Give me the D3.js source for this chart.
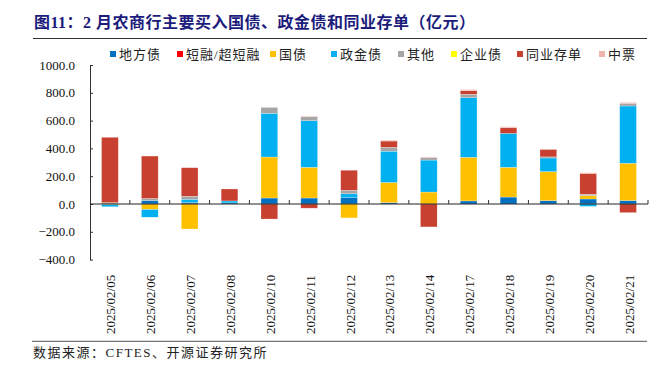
<!DOCTYPE html>
<html>
<head>
<meta charset="utf-8">
<script src="https://cdn.jsdelivr.net/npm/d3@7"></script>
<style>
  body { margin: 0; background: #fff; }
  svg text { font-family: "Liberation Serif", "Times New Roman", "Noto Sans CJK SC", serif; }
  .cjk { font-family: "Liberation Serif", "Noto Sans CJK SC", sans-serif; }
</style>
</head>
<body>
<svg width="664" height="371"></svg>
<script>
// categories
var dates = ["2025/02/05","2025/02/06","2025/02/07","2025/02/08","2025/02/10","2025/02/11","2025/02/12",
             "2025/02/13","2025/02/14","2025/02/17","2025/02/18","2025/02/19","2025/02/20","2025/02/21"];

// series (亿元)
var localGov   = [0, 25, 12, 8, 43, 43, 45, 10, 0, 22, 50, 24, 36, 25];        // 地方债
var shortFin   = [0, 0, 0, 0, 0, 0, 0, 0, 0, 0, 0, 0, 0, 0];                   // 短融/超短融
var treasury   = [-5, -40, -180, 0, 295, 221, -100, 145, 86, 314, 214, 209, 24, 268]; // 国债
var policyBank = [-15, -55, 22, 14, 314, 335, 28, 225, 230, 428, 244, 98, -17, 412];  // 政金债
var other      = [10, 15, 22, 0, 43, 28, 26, 28, 18, 26, 0, 8, 10, 20];        // 其他
var corpBond   = [0, 0, 0, 0, 0, 0, 0, 0, 0, 0, 0, 0, 0, 0];                   // 企业债
var ncd        = [470, 305, 205, 86, -108, -30, 144, 45, -165, 25, 40, 53, 150, -62]; // 同业存单
var mtn        = [0, 0, 0, 0, 0, 6, 0, 6, 5, 8, 8, 0, 5, 6];                   // 中票

var seriesNames = ["地方债", "短融/超短融", "国债", "政金债", "其他", "企业债", "同业存单", "中票"];
var seriesData = [localGov, shortFin, treasury, policyBank, other, corpBond, ncd, mtn];
var colors = ["#0070C0", "#FF0000", "#FFC000", "#00B0F0", "#A5A5A5", "#FFFF00", "#C8402F", "#F2B5AD"];
var yTicks = [-400, -200, 0, 200, 400, 600, 800, 1000];

// build table for d3.stack
var table = dates.map(function(d, i) {
  var row = { date: d };
  seriesNames.forEach(function(k, j) { row[k] = seriesData[j][i]; });
  return row;
});

var svg = d3.select("svg");
var plotL = 90, plotR = 648, plotT = 65, plotB = 259.6;

var x = d3.scaleBand().domain(dates).range([plotL, plotR]).paddingInner(0.58).paddingOuter(0.29);
var y = d3.scaleLinear().domain([-400, 1000]).range([plotB, plotT]);
var color = d3.scaleOrdinal().domain(seriesNames).range(colors);

// title
svg.append("text")
  .attr("class", "cjk")
  .attr("x", 34).attr("y", 28)
  .attr("fill", "#1c1c7c")
  .style("font-size", "16px").style("font-weight", "bold").style("letter-spacing", "0.5px")
  .text("图11：2 月农商行主要买入国债、政金债和同业存单（亿元）");

svg.append("line").attr("x1", 33).attr("x2", 647).attr("y1", 38.5).attr("y2", 38.5)
  .attr("stroke", "#333").attr("stroke-width", 1.2);

// legend
var legendX = [110, 177, 270, 331, 398, 451, 517, 599];
var legend = svg.append("g").selectAll("g").data(seriesNames).enter().append("g")
  .attr("transform", function(d, i) { return "translate(" + legendX[i] + ",54)"; });
legend.append("rect").attr("x", 0).attr("y", -3).attr("width", 6).attr("height", 6)
  .attr("fill", function(d) { return color(d); });
legend.append("text").attr("class", "cjk").attr("x", 9).attr("dy", "0.35em")
  .style("font-size", "13px").style("letter-spacing", "1px").attr("fill", "#222")
  .text(function(d) { return d; });

// stacked bars
var stack = d3.stack().keys(seriesNames).offset(d3.stackOffsetDiverging);
var layers = svg.append("g").selectAll("g").data(stack(table)).enter().append("g")
  .attr("fill", function(d) { return color(d.key); });

layers.selectAll("rect").data(function(d) { return d; }).enter().append("rect")
  .attr("x", function(d) { return x(d.data.date); })
  .attr("width", x.bandwidth())
  .attr("y", function(d) { return y(Math.max(d[0], d[1])); })
  .attr("height", function(d) { return Math.abs(y(d[0]) - y(d[1])); })
  .attr("stroke", "#fff").attr("stroke-width", 0.4).attr("stroke-opacity", 0.6);

// y axis
var yAxis = svg.append("g").attr("transform", "translate(" + plotL + ",0)")
  .call(d3.axisLeft(y).tickValues(yTicks).tickSizeInner(-3).tickSizeOuter(0).tickPadding(15)
    .tickFormat(d3.format(".1f")));
yAxis.selectAll("text").style("font-size", "13px").attr("fill", "#111");
yAxis.selectAll("line, path").attr("stroke", "#333");

// zero line with ticks at category boundaries
var step = x.step();
svg.append("line").attr("x1", plotL).attr("x2", plotR).attr("y1", y(0)).attr("y2", y(0))
  .attr("stroke", "#222").attr("stroke-width", 1);
svg.append("g").selectAll("line").data(dates).enter().append("line")
  .attr("x1", function(d) { return x(d) + x.bandwidth() / 2 + step / 2; })
  .attr("x2", function(d) { return x(d) + x.bandwidth() / 2 + step / 2; })
  .attr("y1", y(0)).attr("y2", y(0) - 4)
  .attr("stroke", "#333");

// category labels
svg.append("g").selectAll("text").data(dates).enter().append("text")
  .attr("transform", function(d) { return "translate(" + (x(d) + x.bandwidth() / 2 + 1) + ",334) rotate(-90)"; })
  .attr("dy", "0.35em")
  .style("font-size", "13px").attr("fill", "#111")
  .text(function(d) { return d; });

// bottom rule and source
svg.append("line").attr("x1", 32).attr("x2", 647).attr("y1", 341.3).attr("y2", 341.3)
  .attr("stroke", "#777").attr("stroke-width", 1.2);
svg.append("text").attr("class", "cjk").attr("x", 33).attr("y", 357)
  .style("font-size", "13px").style("letter-spacing", "1.5px").attr("fill", "#222")
  .text("数据来源：CFTES、开源证券研究所");
</script>
</body>
</html>
